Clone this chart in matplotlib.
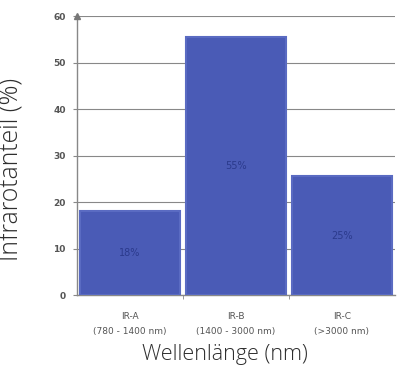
import matplotlib
matplotlib.use("Agg")
import matplotlib.pyplot as plt
from matplotlib.ticker import FixedLocator

categories = ["IR-A\n(780 - 1400 nm)", "IR-B\n(1400 - 3000 nm)", "IR-C\n(>3000 nm)"]
values = [18, 55.5, 25.5]
bar_labels = ["18%", "55%", "25%"]
yticks = [0, 10, 20, 30, 40, 50, 60]

fig = plt.figure(figsize=(4.03, 3.69), dpi=100)
ax = fig.add_axes([0.191, 0.2005, 0.789, 0.756])

x = list(range(len(categories)))
bars = ax.bar(x, values, width=0.95, color="#4a5bb6", edgecolor="#5a6bc2", linewidth=1.5, zorder=3)

for xi, v, lab in zip(x, values, bar_labels):
    ax.text(xi, v / 2, lab, ha="center", va="center", fontsize=7, color="#2b3a8c", zorder=4)

ax.set_xlim(-0.5, 2.5)
ax.set_ylim(0, 60)
ax.set_yticks(yticks)
ax.set_yticklabels([str(t) for t in yticks], fontsize=6.5, color="#555555", fontweight="bold")
ax.set_xticks(x)
ax.set_xticklabels(categories, fontsize=6.5, color="#555555", linespacing=1.9)
ax.tick_params(axis="x", length=0, pad=12)
ax.xaxis.set_minor_locator(FixedLocator([0.5, 1.5]))
ax.tick_params(axis="x", which="minor", length=3, color="#888888")
ax.tick_params(axis="y", length=3, color="#888888", pad=5)

ax.grid(axis="y", color="#888888", linewidth=0.8, zorder=0)
for s in ["top", "right"]:
    ax.spines[s].set_visible(False)
for s in ["left", "bottom"]:
    ax.spines[s].set_color("#888888")
    ax.spines[s].set_linewidth(1.0)
ax.plot(0, 1, marker="^", markersize=4, color="#777777", transform=ax.transAxes, clip_on=False, zorder=5)

ax.set_ylabel("Infrarotanteil (%)", fontsize=17.8, color="#2e2e2e", family="Open Sans", fontweight="light")
ax.yaxis.set_label_coords(-0.204, 0.45)
ax.set_xlabel("Wellenlänge (nm)", fontsize=15.5, color="#2e2e2e", family="Open Sans", fontweight="light")
ax.xaxis.set_label_coords(0.465, -0.215)
ax.xaxis.label.set_va("center")
ax.yaxis.label.set_va("center")

fig.savefig("out.png", dpi=100)
